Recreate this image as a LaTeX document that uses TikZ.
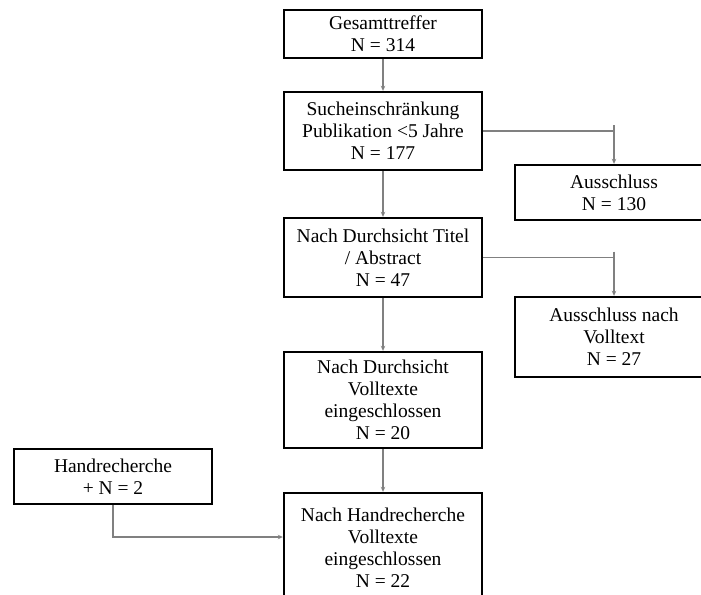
\documentclass[tikz,border=0pt]{standalone}
\usepackage{fontspec}
\setmainfont{Liberation Serif}
\usetikzlibrary{calc,arrows.meta}
\begin{document}
\begin{tikzpicture}[x=1pt,y=-1pt,
  box/.style={draw=black,line width=2.4pt,minimum width=198pt,inner sep=0pt,align=center,
    font=\fontsize{19.5pt}{22pt}\selectfont},
  conn/.style={draw=black!50,line width=1.3pt},
  arr/.style={conn,-{Stealth[length=5pt,width=4.5pt]}}]
\fill[white] (0,0) rectangle (701,594);
\clip (0,0) rectangle (701,594);
\node[box,minimum height=48pt] (b1) at (383,34) {Gesamttreffer\\N = 314};
\node[box,minimum height=78pt] (b2) at (383,131) {Sucheinschränkung\\Publikation <5 Jahre\\N = 177};
\node[box,minimum height=79pt] (b3) at (383,257.5) {Nach Durchsicht Titel\\/ Abstract\\N = 47};
\node[box,minimum height=96pt] (b4) at (383,400) {Nach Durchsicht\\Volltexte\\eingeschlossen\\N = 20};
\node[box,minimum height=109pt] (b5) at (383,547.5) {Nach Handrecherche\\Volltexte\\eingeschlossen\\N = 22};
\node[box,minimum height=55pt] (a1) at (614,192.5) {Ausschluss\\N = 130};
\node[box,minimum height=80pt] (a2) at (614,337) {Ausschluss nach\\Volltext\\N = 27};
\node[box,minimum height=55pt] (h) at (113,476.5) {Handrecherche\\+ N = 2};
\draw[arr] (b1.south) -- (b2.north);
\draw[arr] (b2.south) -- (b3.north);
\draw[arr] (b3.south) -- (b4.north);
\draw[arr] (b4.south) -- (b5.north);
\coordinate (k1) at (b2.east -| a1.north);
\coordinate (k2) at (b3.east -| a2.north);
\draw[conn] (b2.east) -- (k1);
\draw[arr] ($(k1)+(0,-6)$) -- (a1.north);
\draw[conn] (b3.east) -- (k2);
\draw[arr] ($(k2)+(0,-6)$) -- (a2.north);
\draw[arr] (h.south) |- ([yshift=10.5pt]b5.west);
\end{tikzpicture}
\end{document}
